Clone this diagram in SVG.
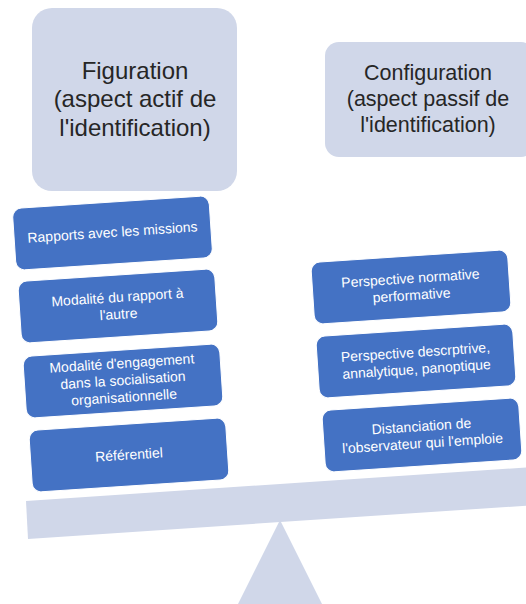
<svg xmlns="http://www.w3.org/2000/svg" width="526" height="604" viewBox="0 0 526 604">
<style>
.light{fill:#D0D7E9;}
.blue{fill:#4472C4;stroke:#ffffff;stroke-width:1;}
.head{font-family:"Liberation Sans",Arial,sans-serif;fill:#262626;text-anchor:middle;}
.lbl{font-family:"Liberation Sans",Arial,sans-serif;font-size:14px;fill:#ffffff;text-anchor:middle;}
</style>
<rect width="526" height="604" fill="#ffffff"/>
<g id="fulcrum"><polygon class="light" points="280,520 330,620 230,620"/></g>
<g id="beam"><polygon class="light" points="26,501 540,466.6 542,504.6 28,539"/></g>
<g id="figuration">
<rect class="light" x="32" y="8" width="205" height="183" rx="20"/>
<text class="head" font-size="24" x="135" y="79">Figuration</text>
<text class="head" font-size="24" x="135" y="107">(aspect actif de</text>
<text class="head" font-size="24" x="135" y="136">l'identification)</text>
</g>
<g id="configuration">
<rect class="light" x="325" y="42" width="210" height="115" rx="14"/>
<text class="head" font-size="21.5" x="428" y="80">Configuration</text>
<text class="head" font-size="21.5" x="428" y="106">(aspect passif de</text>
<text class="head" font-size="21.5" x="428" y="132">l'identification)</text>
</g>
<g id="rapports" transform="rotate(-3.8 112.5 233)">
<rect class="blue" x="14" y="202" width="197" height="62" rx="9"/>
<text class="lbl" x="112.5" y="237">Rapports avec les missions</text>
</g>
<g id="modalite-rapport" transform="rotate(-3.8 118 306)">
<rect class="blue" x="19.5" y="275" width="197" height="62" rx="9"/>
<text class="lbl" x="118" y="302">Modalité du rapport à</text>
<text class="lbl" x="118" y="319">l'autre</text>
</g>
<g id="modalite-engagement" transform="rotate(-3.8 123 381)">
<rect class="blue" x="24.5" y="350" width="197" height="62" rx="9"/>
<text class="lbl" x="123" y="368">Modalité d'engagement</text>
<text class="lbl" x="123" y="385">dans la socialisation</text>
<text class="lbl" x="123" y="402">organisationnelle</text>
</g>
<g id="referentiel" transform="rotate(-3.8 129 455)">
<rect class="blue" x="30.5" y="424" width="197" height="62" rx="9"/>
<text class="lbl" x="129" y="459.5">Référentiel</text>
</g>
<g id="perspective-normative" transform="rotate(-3.8 411 287)">
<rect class="blue" x="312.5" y="256" width="197" height="62" rx="9"/>
<text class="lbl" x="411" y="283">Perspective normative</text>
<text class="lbl" x="411" y="300">performative</text>
</g>
<g id="perspective-descriptive" transform="rotate(-3.8 416 361)">
<rect class="blue" x="317.5" y="330" width="197" height="62" rx="9"/>
<text class="lbl" x="416" y="357">Perspective descrptrive,</text>
<text class="lbl" x="416" y="374">annalytique, panoptique</text>
</g>
<g id="distanciation" transform="rotate(-3.8 422 435)">
<rect class="blue" x="323.5" y="404" width="197" height="62" rx="9"/>
<text class="lbl" x="422" y="431">Distanciation de</text>
<text class="lbl" x="422" y="448">l'observateur qui l'emploie</text>
</g>
</svg>
